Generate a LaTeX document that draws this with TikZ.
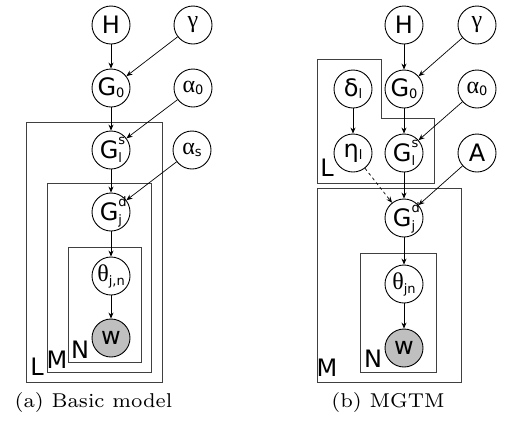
\documentclass[tikz,border=0pt]{standalone}
\usepackage{fontspec}
\newfontfamily\nf{DejaVu Sans}
\newfontfamily\gf{Liberation Serif}
\newfontfamily\capfont{lmroman7-regular.otf}
\usetikzlibrary{arrows.meta}
\newcommand\scr[1]{{\nf\fontsize{13}{13}\selectfont #1}}
\newcommand\lowsub[2]{#1\raisebox{-0.15ex}{\scr{#2}}}
\newcommand\supsubx[3]{#1\rlap{\raisebox{1.05ex}{\scr{#2}}}\raisebox{-0.3ex}{\scr{#3}}}
\tikzset{
  var/.style={circle, draw, line width=0.9pt, minimum size=38pt, inner sep=0pt,
    font=\nf\fontsize{24}{24}\selectfont},
  obs/.style={var, fill=black!25},
  plate/.style={draw=black!75, line width=1pt},
  platelabel/.style={font=\nf\fontsize{24}{24}\selectfont, inner sep=0pt},
  edge/.style={line width=0.7pt, -{Stealth[length=6pt,width=5pt]}},
  captext/.style={font=\capfont\fontsize{20}{24}\selectfont, inner sep=0pt}
}
\begin{document}
\begin{tikzpicture}[x=1pt,y=-1pt]
\useasboundingbox (0,0) rectangle (505,421);
% ---------- (a) ----------
\draw[plate] (26,122) rectangle (162,382);
\draw[plate] (47,183) rectangle (151,372);
\draw[plate] (68,247) rectangle (141,362);
\node[var] (aH) at (111,25) {H};
\node[var] (ag) at (193,25) {{\gf γ}};
\node[var] (aG0) at (111,88) {\lowsub{G}{0}};
\node[var] (aa0) at (193,88) {\lowsub{{\gf α}}{0}};
\node[var] (aGs) at (111,150) {\supsubx{G}{s}{l}};
\node[var] (aas) at (192,150) {\lowsub{{\gf α}}{s}};
\node[var] (aGd) at (111,212) {\supsubx{G}{d}{j}};
\node[var] (ath) at (111,276) {{\gf θ}\raisebox{-0.3ex}{\scr{j,n}}};
\node[obs] (aw) at (111,338) {w};
\node[platelabel] (aL) at (37,367) {L};
\node[platelabel] (aM) at (57,360) {M};
\node[platelabel] (aN) at (80,350) {N};
\draw[edge] (aH) -- (aG0);
\draw[edge] (ag) -- (aG0);
\draw[edge] (aG0) -- (aGs);
\draw[edge] (aa0) -- (aGs);
\draw[edge] (aGs) -- (aGd);
\draw[edge] (aas) -- (aGd);
\draw[edge] (aGd) -- (ath);
\draw[edge] (ath) -- (aw);
\node[captext] (acap) at (93.5,402) {(a) Basic model};
% ---------- (b) ----------
\draw[plate] (317,59) -- (381,59) -- (381,118) -- (434,118) -- (434,183) -- (317,183) -- cycle;
\draw[plate] (317,188) rectangle (461,382);
\draw[plate] (360,253) rectangle (436,372);
\node[var] (bH) at (404,25) {H};
\node[var] (bg) at (477,25) {{\gf γ}};
\node[var] (bd) at (353,89) {\lowsub{δ}{l}};
\node[var] (bG0) at (404,89) {\lowsub{G}{0}};
\node[var] (ba0) at (477,89) {\lowsub{{\gf α}}{0}};
\node[var] (beta) at (353,153) {\lowsub{η}{l}};
\node[var] (bGs) at (404,153) {\supsubx{G}{s}{l}};
\node[var] (bA) at (477,153) {A};
\node[var] (bGd) at (404,218) {\supsubx{G}{d}{j}};
\node[var] (bth) at (404,284) {{\gf θ}\raisebox{-0.3ex}{\scr{jn}}};
\node[obs] (bw) at (404,348) {w};
\node[platelabel] (bL) at (327,168) {L};
\node[platelabel] (bM) at (327,368) {M};
\node[platelabel] (bN) at (373,359) {N};
\draw[edge] (bH) -- (bG0);
\draw[edge] (bg) -- (bG0);
\draw[edge] (bd) -- (beta);
\draw[edge] (bG0) -- (bGs);
\draw[edge] (ba0) -- (bGs);
\draw[edge] (bGs) -- (bGd);
\draw[edge, dashed] (beta) -- (bGd);
\draw[edge] (bA) -- (bGd);
\draw[edge] (bGd) -- (bth);
\draw[edge] (bth) -- (bw);
\node[captext] (bcap) at (388,402) {(b) MGTM};
\end{tikzpicture}
\end{document}
